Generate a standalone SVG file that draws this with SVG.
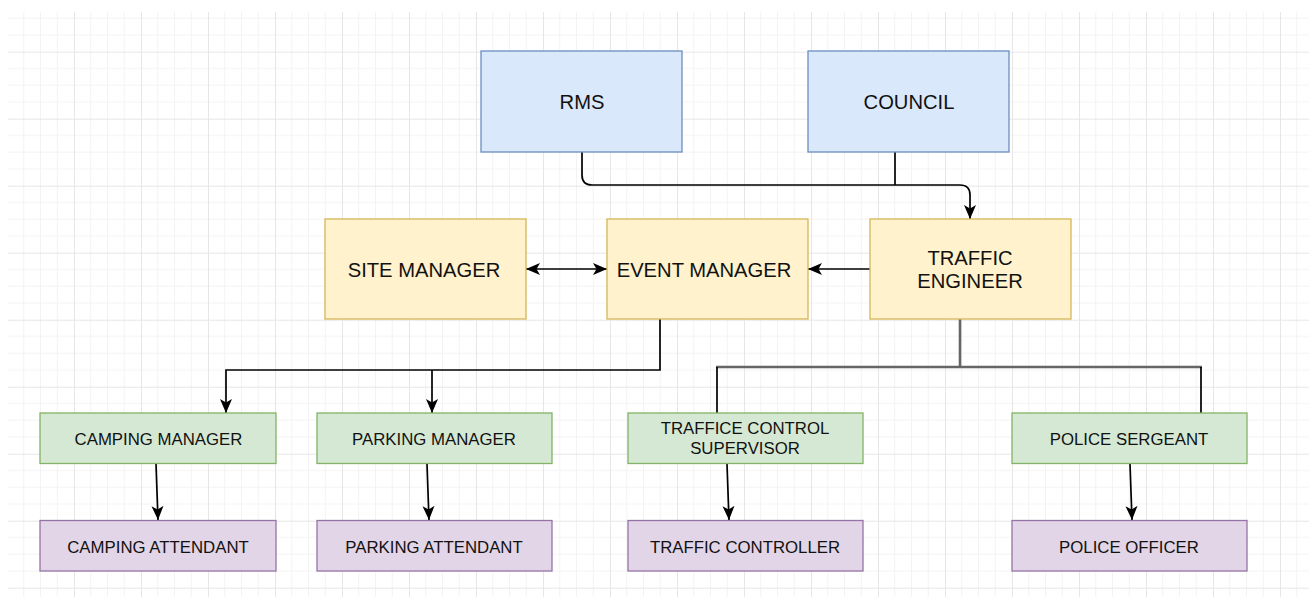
<svg xmlns="http://www.w3.org/2000/svg" width="1309" height="597" viewBox="0 0 1309 597">
<defs>
<pattern id="grid" patternUnits="userSpaceOnUse" x="7" y="51.7" width="67" height="67">
<path d="M16.75,0 V67 M33.5,0 V67 M50.25,0 V67 M0,16.75 H67 M0,33.5 H67 M0,50.25 H67" stroke="#f3f3f3" stroke-width="1" fill="none"/>
<path d="M0.5,0 V67 M0,0.5 H67" stroke="#e6e6e6" stroke-width="1" fill="none"/>
</pattern>
<marker id="arr" viewBox="0 0 14 14" refX="14" refY="7" markerWidth="14" markerHeight="14" markerUnits="userSpaceOnUse" orient="auto-start-reverse">
<path d="M0,1 L14,7 L0,13 L3.5,7 Z" fill="#000"/>
</marker>
<style>
.blue{fill:#dae8fc;stroke:#6c8ebf;stroke-width:1.3}
.yel{fill:#fff2cc;stroke:#d6b656;stroke-width:1.3}
.grn{fill:#d5e8d4;stroke:#82b366;stroke-width:1.3}
.pur{fill:#e1d5e7;stroke:#9673a6;stroke-width:1.3}
.big{font-family:"Liberation Sans",Arial,sans-serif;font-size:20.2px;fill:#111;text-anchor:middle}
.sm{font-family:"Liberation Sans",Arial,sans-serif;font-size:16.8px;fill:#111;text-anchor:middle}
.edge{fill:none;stroke:#000;stroke-width:1.7}
.gray{fill:none;stroke:#666;stroke-width:2.6}
</style>
</defs>
<rect x="0" y="0" width="1309" height="597" fill="#fff"/>
<rect x="8" y="12" width="1301" height="585" fill="url(#grid)"/>

<g id="connectors">
<path class="edge" d="M582,152 V175 Q582,185 592,185 H960 Q970,185 970,195 V219" marker-end="url(#arr)"/>
<path class="edge" d="M895,152 V185"/>
<path class="edge" d="M526,269 H607" marker-start="url(#arr)" marker-end="url(#arr)"/>
<path class="edge" d="M870,269 H808" marker-end="url(#arr)"/>
<path class="edge" d="M660,319 V370 H226 V413" marker-end="url(#arr)"/>
<path class="edge" d="M432,370 V413" marker-end="url(#arr)"/>
<path class="gray" d="M960,319 V367 M716,367 H1202"/>
<path class="edge" d="M717,367 V413 M1201,367 V413"/>
<path class="edge" d="M156,464 L158,520" marker-end="url(#arr)"/>
<path class="edge" d="M427,464 L429,520" marker-end="url(#arr)"/>
<path class="edge" d="M727,464 L729,520" marker-end="url(#arr)"/>
<path class="edge" d="M1130,464 L1132,520" marker-end="url(#arr)"/>
</g>

<g id="rms"><rect class="blue" x="481" y="51" width="201" height="101"/><text class="big" x="582" y="109">RMS</text></g>
<g id="council"><rect class="blue" x="808" y="51" width="201" height="101"/><text class="big" x="909" y="109">COUNCIL</text></g>

<g id="site-manager"><rect class="yel" x="325" y="219" width="201" height="100"/><text class="big" x="424" y="276.5">SITE MANAGER</text></g>
<g id="event-manager"><rect class="yel" x="607" y="219" width="201" height="100"/><text class="big" x="704" y="276.5">EVENT MANAGER</text></g>
<g id="traffic-engineer"><rect class="yel" x="870" y="219" width="201" height="100"/><text class="big" x="970" y="265">TRAFFIC</text><text class="big" x="970" y="288">ENGINEER</text></g>

<g id="camping-manager"><rect class="grn" x="40" y="413" width="236" height="50.5"/><text class="sm" x="158.5" y="444.5">CAMPING MANAGER</text></g>
<g id="parking-manager"><rect class="grn" x="317" y="413" width="235" height="50.5"/><text class="sm" x="434" y="444.5">PARKING MANAGER</text></g>
<g id="traffic-control-supervisor"><rect class="grn" x="628" y="413" width="235" height="50.5"/><text class="sm" x="745" y="434">TRAFFICE CONTROL</text><text class="sm" x="745" y="454">SUPERVISOR</text></g>
<g id="police-sergeant"><rect class="grn" x="1012" y="413" width="235" height="50.5"/><text class="sm" x="1129" y="444.5">POLICE SERGEANT</text></g>

<g id="camping-attendant"><rect class="pur" x="40" y="520.5" width="236" height="50.5"/><text class="sm" x="158" y="552.5">CAMPING ATTENDANT</text></g>
<g id="parking-attendant"><rect class="pur" x="317" y="520.5" width="235" height="50.5"/><text class="sm" x="434" y="552.5">PARKING ATTENDANT</text></g>
<g id="traffic-controller"><rect class="pur" x="628" y="520.5" width="235" height="50.5"/><text class="sm" x="745" y="552.5">TRAFFIC CONTROLLER</text></g>
<g id="police-officer"><rect class="pur" x="1012" y="520.5" width="235" height="50.5"/><text class="sm" x="1129" y="552.5">POLICE OFFICER</text></g>
</svg>
